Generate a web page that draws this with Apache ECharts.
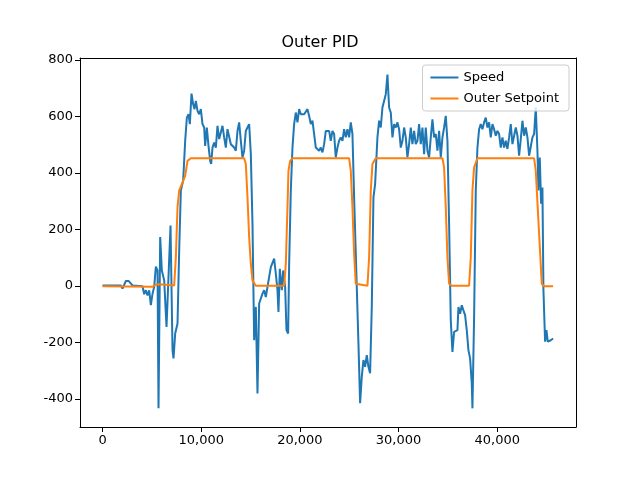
<!DOCTYPE html>
<html>
<head>
<meta charset="utf-8">
<script src="https://cdn.jsdelivr.net/npm/echarts@6/dist/echarts.min.js"></script>
<style>html,body{margin:0;padding:0;background:#fff}#main{width:640px;height:480px}</style>
</head>
<body>
<div id="main"></div>
<script>
// speed trace, [time, value]
const speed = [
  [0,2],[1857,2],[2026,-9],[2364,18],[2634,18],[3039,2],[4052,-1],[4221,-29],[4390,-15],[4559,-33],
  [4728,-15],[4897,-68],[5066,-27],[5234,-3],[5403,69],[5572,55],[5673,-433],[5842,173],[6011,55],[6248,20],
  [6484,-145],[6686,-150],[6889,214],[7092,-227],[7193,-256],[7362,-168],[7598,-133],[7767,126],[7936,338],[8172,373],
  [8375,514],[8544,596],[8713,608],[8848,573],[9017,681],[9186,643],[9321,626],[9456,655],[9624,620],[9793,608],
  [9962,626],[10131,573],[10300,561],[10401,496],[10570,561],[10739,496],[10908,443],[11009,432],[11144,490],[11313,508],
  [11482,490],[11651,567],[11820,520],[11989,526],[12157,567],[12326,526],[12495,490],[12664,555],[12833,561],[13002,502],
  [13170,496],[13339,490],[13508,479],[13677,549],[13846,579],[14015,514],[14184,455],[14353,479],[14521,549],[14690,561],
  [14859,573],[15028,467],[15197,220],[15366,-192],[15535,-74],[15703,-380],[15872,-62],[16041,-62],[16210,-27],[16379,-15],
  [16548,-39],[16717,-3],[16886,-3],[17055,67],[17224,67],[17392,97],[17561,44],[17730,-15],[17831,-92],[17966,61],
  [18169,-15],[18304,55],[18506,-3],[18641,-156],[18810,-168],[18912,79],[19080,338],[19249,490],[19418,573],[19587,614],
  [19756,579],[19925,626],[20094,608],[20263,602],[20432,608],[20600,602],[20769,626],[20938,602],[21107,573],[21276,585],
  [21445,538],[21614,490],[21783,496],[21952,479],[22120,490],[22289,473],[22458,502],[22627,549],[22796,555],[22964,549],
  [23132,514],[23301,549],[23470,538],[23639,455],[23808,490],[23977,514],[24146,526],[24315,514],[24484,555],[24652,526],
  [24821,555],[24990,526],[25159,579],[25328,538],[25497,314],[25666,114],[25767,108],[25936,-203],[26104,-415],[26273,-321],
  [26442,-262],[26611,-286],[26780,-245],[26949,-286],[27118,-309],[27287,-74],[27456,314],[27625,361],[27861,526],[28030,585],
  [28199,561],[28368,632],[28537,632],[28706,679],[28875,748],[29043,632],[29212,614],[29381,526],[29550,573],[29719,561],
  [29888,579],[30057,555],[30226,490],[30395,514],[30564,561],[30733,526],[30901,455],[31070,502],[31239,561],[31408,502],
  [31577,549],[31746,502],[31915,514],[32084,573],[32253,502],[32422,561],[32590,467],[32759,561],[32928,479],[33097,455],
  [33266,526],[33435,590],[33604,526],[33773,538],[33942,479],[34111,549],[34280,455],[34449,526],[34617,561],[34786,602],
  [34955,514],[35124,220],[35293,-121],[35462,-233],[35631,-162],[35800,-156],[35969,-156],[36070,-74],[36239,-98],[36408,-68],
  [36576,-86],[36745,-103],[36914,-156],[37083,-227],[37252,-256],[37421,-344],[37489,-433],[37658,-109],[37827,338],[37996,490],
  [38164,555],[38333,573],[38502,555],[38671,579],[38840,596],[39009,561],[39178,579],[39347,526],[39516,573],[39685,555],
  [39854,532],[40023,549],[40192,538],[40361,490],[40530,526],[40699,490],[40867,514],[41036,485],[41205,526],[41374,573],
  [41543,502],[41712,496],[41881,561],[42050,532],[42219,461],[42388,520],[42557,585],[42726,532],[42895,561],[43064,526],
  [43233,461],[43401,455],[43570,526],[43739,538],[43908,632],[44077,479],[44178,338],[44313,455],[44448,291],[44583,349],
  [44685,-15],[44853,-197],[44989,-156],[45124,-197],[45259,-197],[45428,-192],[45664,-186]
];
// outer setpoint, [time, value]
const setpoint = [
  [0,-1],[5066,-3],[5403,5],[5742,6],[7260,2],[7429,102],[7598,279],[7767,338],[8105,367],[8375,390],
  [8611,443],[8949,452],[14353,452],[14521,432],[14690,314],[14859,173],[15028,79],[15197,20],[15535,1],[18405,1],
  [18574,79],[18743,279],[18844,408],[19013,443],[19249,452],[24990,452],[25159,408],[25328,279],[25497,114],[25666,8],
  [25835,1],[26848,1],[27017,102],[27186,338],[27355,432],[27693,452],[34449,452],[34617,420],[34786,279],[34955,102],
  [35124,8],[35394,1],[37151,1],[37320,102],[37489,338],[37658,420],[37996,452],[43739,452],[43908,408],[44246,185],
  [44516,8],[44752,-1],[45664,-1]
];
const xTicks = [0, 10000, 20000, 30000, 40000];
const yTicks = [-400, -200, 0, 200, 400, 600, 800];

const font = "DejaVu Sans";
const axisBase = {
  axisLine: { show: true, onZero: false, lineStyle: { color: "#000", width: 1 } },
  splitLine: { show: false }
};
function mainAxis(ticks, min, max, pos) {
  return Object.assign({}, axisBase, {
    type: "value", min: min, max: max, position: pos,
    axisTick: { show: true, length: 5, customValues: ticks, lineStyle: { color: "#000" } },
    axisLabel: { customValues: ticks, color: "#000", fontFamily: font, fontSize: 13, margin: 7 }
  });
}
function sideAxis(min, max, pos) {
  return Object.assign({}, axisBase, {
    type: "value", min: min, max: max, position: pos,
    axisTick: { show: false }, axisLabel: { show: false }
  });
}
const xMin = -2285, xMax = 47985, yMin = -499, yMax = 807;

let chart = echarts.init(document.getElementById("main"), null, { renderer: "canvas" });
chart.setOption({
  animation: false,
  title: { text: "Outer PID", left: "center", top: 30, textStyle: { fontFamily: font, fontSize: 16, fontWeight: "normal", color: "#000" } },
  legend: {
    orient: "vertical", right: 71, top: 65, padding: [6, 10, 6, 8],
    itemWidth: 28, itemHeight: 2, itemGap: 8,
    borderColor: "#ccc", borderWidth: 1, borderRadius: 3, backgroundColor: "rgba(255,255,255,0.8)",
    icon: "rect",
    textStyle: { fontFamily: font, fontSize: 13, color: "#000" },
    data: ["Speed", "Outer Setpoint"]
  },
  grid: { left: 80, right: 64, top: 58, bottom: 53 },
  xAxis: [mainAxis(xTicks, xMin, xMax, "bottom"), sideAxis(xMin, xMax, "top")],
  yAxis: [mainAxis(yTicks, yMin, yMax, "left"), sideAxis(yMin, yMax, "right")],
  series: [
    { name: "Speed", type: "line", data: speed, showSymbol: false, lineStyle: { color: "#1f77b4", width: 2 }, itemStyle: { color: "#1f77b4" } },
    { name: "Outer Setpoint", type: "line", data: setpoint, showSymbol: false, lineStyle: { color: "#ff7f0e", width: 2 }, itemStyle: { color: "#ff7f0e" } }
  ]
});
</script>
</body>
</html>
